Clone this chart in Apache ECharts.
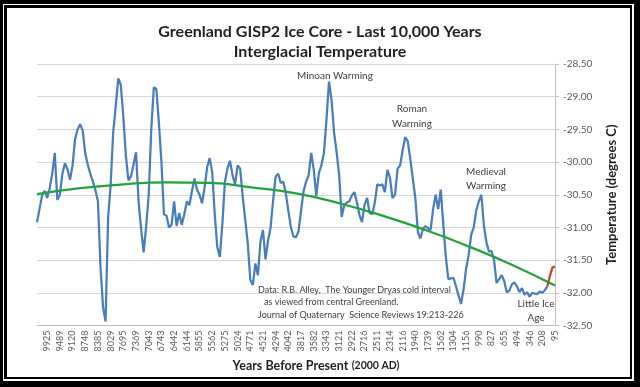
<!DOCTYPE html>
<html>
<head>
<meta charset="utf-8">
<script src="https://cdn.jsdelivr.net/npm/echarts@6/dist/echarts.min.js"></script>
<style>
  html, body { margin: 0; padding: 0; background: #fff; }
  #wrap { position: relative; width: 640px; height: 387px; background: #000; overflow: hidden; }
  .f { position: absolute; }
  #chart { position: absolute; left: 0; top: 0; width: 640px; height: 387px; }
</style>
</head>
<body>
<div id="wrap">
  <div class="f" style="left:3px;top:4px;right:6px;bottom:6px;background:#fff;"></div>
  <div class="f" style="left:4px;top:5px;right:8px;bottom:8px;background:#000;"></div>
  <div class="f" style="left:7px;top:8px;right:10px;bottom:10px;background:#fff;"></div>
  <div id="chart"></div>
</div>
<script>
// Tick labels (years before present), one every 5 samples starting at sample 4
const tickLabels = ['9925','9489','9120','8748','8385','8029','7695','7369','7043','6743',
  '6442','6144','5855','5562','5275','5024','4771','4521','4294','4042',
  '3817','3582','3343','3121','2922','2716','2511','2314','2116','1940',
  '1739','1562','1304','1156','990','827','655','494','346','208','95'];
const firstTickIndex = 4;
const tickStep = 5;

// GISP2 temperature samples (degrees C)
const temps = [
  -30.92, -30.72, -30.51, -30.44, -30.55, -30.40, -30.18, -29.86, -30.58, -30.50,
  -30.18, -30.02, -30.11, -30.27, -30.05, -29.65, -29.50, -29.42, -29.52, -29.87,
  -30.04, -30.18, -30.30, -30.43, -30.60, -31.60, -32.22, -32.44, -30.85, -30.35,
  -29.55, -29.15, -28.72, -28.82, -29.31, -29.90, -30.28, -30.22, -30.04, -29.85,
  -30.60, -31.02, -31.38, -30.98, -30.50, -29.50, -28.86, -28.88, -29.40, -30.00,
  -30.80, -30.82, -31.00, -30.96, -30.60, -30.98, -30.78, -30.96, -30.80, -30.60,
  -30.66, -30.45, -30.25, -30.42, -30.50, -30.63, -30.39, -30.08, -29.94, -30.15,
  -30.80, -31.30, -31.45, -30.95, -30.30, -30.10, -29.98, -30.20, -30.34, -30.05,
  -30.10, -30.52, -30.88, -31.24, -31.80, -31.88, -31.55, -31.73, -31.22, -31.04,
  -31.49, -31.20, -31.00, -30.58, -30.22, -30.18, -30.32, -30.30, -30.48, -30.75,
  -31.00, -31.14, -31.15, -31.06, -30.74, -30.44, -30.30, -30.20, -29.86, -30.12,
  -30.52, -30.17, -30.05, -29.86, -29.35, -28.77, -29.05, -29.55, -29.85, -30.20,
  -30.84, -30.66, -30.62, -30.60, -30.51, -30.46, -30.62, -30.81, -30.92, -30.65,
  -30.55, -30.78, -30.80, -30.63, -30.34, -30.36, -30.34, -30.46, -30.12, -30.24,
  -30.55, -30.50, -30.10, -30.05, -29.82, -29.62, -29.68, -29.95, -30.25, -30.55,
  -31.07, -31.17, -31.02, -30.98, -31.01, -31.04, -30.72, -30.50, -30.72, -30.42,
  -30.95, -31.45, -31.79, -31.78, -31.77, -31.90, -32.04, -32.17, -31.95, -31.63,
  -31.42, -31.11, -31.00, -30.74, -30.60, -30.50, -30.97, -31.23, -31.37, -31.36,
  -31.50, -31.85, -31.79, -31.73, -31.82, -31.99, -31.97, -31.87, -31.84, -31.90,
  -31.99, -31.93, -32.03, -31.99, -32.06, -32.00, -32.01, -32.02, -31.98, -32.00,
  -31.96, -31.90, -31.74, -31.61, -31.60
];
// Samples from this index onward are drawn in red (recent warming)
const recentStart = 201;

// Polynomial trend line, one value every 17 samples
const trendStep = 17;
const trendValues = [-30.49, -30.40, -30.34, -30.31, -30.32, -30.39, -30.48,
  -30.63, -30.82, -31.04, -31.29, -31.57, -31.89];

const yTicks = { min: -32.5, max: -28.5, interval: 0.5 };

// ---- build series data ----
const categories = temps.map((_, i) => String(i));
const labelFor = {};
tickLabels.forEach((t, k) => { labelFor[firstTickIndex + k * tickStep] = t; });
const blueData = temps.map((v, i) => (i <= recentStart ? v : null));
const redData = temps.map((v, i) => (i >= recentStart ? v : null));
const trendData = temps.map(() => null);
trendValues.forEach((v, k) => { trendData[k * trendStep] = v; });

const FONT = 'Lato, "Open Sans", sans-serif';
const chart = echarts.init(document.getElementById('chart'), null, { renderer: 'canvas' });

function ctext(text, cx, cy) {
  return {
    type: 'text', x: cx, y: cy, z: 100,
    style: { text: text, fill: '#404040', font: '10px ' + FONT, align: 'center', verticalAlign: 'middle' }
  };
}
function ltext(text, lx, cy) {
  return {
    type: 'text', x: lx, y: cy, z: 100,
    style: { text: text, fill: '#404040', font: '9px ' + FONT, align: 'left', verticalAlign: 'middle' }
  };
}

chart.setOption({
  animation: false,
  backgroundColor: 'transparent',
  title: {
    text: 'Greenland GISP2 Ice Core - Last 10,000 Years\nInterglacial Temperature',
    left: 'center', top: 17,
    textStyle: { fontFamily: FONT, fontSize: 16, fontWeight: 'bold', color: '#1f1f1f', lineHeight: 20 }
  },
  grid: { left: 37, right: 85, top: 64, bottom: 61.5, containLabel: false },
  xAxis: {
    type: 'category',
    data: categories,
    boundaryGap: false,
    axisLine: { show: true, lineStyle: { color: '#bfbfbf', width: 1 } },
    axisTick: { show: false },
    axisLabel: {
      interval: (idx) => labelFor[idx] !== undefined,
      formatter: (val, idx) => labelFor[idx] || '',
      rotate: 90,
      margin: 5,
      fontFamily: FONT, fontSize: 9, color: '#595959'
    },
    splitLine: { show: false }
  },
  yAxis: {
    type: 'value',
    position: 'right',
    min: yTicks.min, max: yTicks.max, interval: yTicks.interval,
    name: 'Temperature (degrees C)',
    nameLocation: 'middle',
    nameRotate: 90,
    nameGap: 50,
    nameTextStyle: { fontFamily: FONT, fontSize: 13, fontWeight: 'bold', color: '#1f1f1f' },
    axisLine: { show: true, lineStyle: { color: '#bfbfbf', width: 1 } },
    axisTick: { show: true, inside: false, length: 4, lineStyle: { color: '#bfbfbf' } },
    axisLabel: {
      formatter: (v) => v.toFixed(2),
      margin: 8,
      fontFamily: FONT, fontSize: 10, color: '#595959'
    },
    splitLine: { show: true, lineStyle: { color: '#d9d9d9', width: 1 } }
  },
  series: [
    {
      name: 'GISP2', type: 'line', data: blueData, showSymbol: false, symbol: 'none',
      lineStyle: { color: '#4a7ebb', width: 2.25 }, z: 3
    },
    {
      name: 'Recent', type: 'line', data: redData, showSymbol: false, symbol: 'none',
      lineStyle: { color: '#d23a32', width: 2.25 }, z: 4
    },
    {
      name: 'Trend', type: 'line', data: trendData, connectNulls: true, smooth: 0.5,
      showSymbol: false, symbol: 'none',
      lineStyle: { color: '#22a33a', width: 2.25 }, z: 5
    }
  ],
  graphic: [
    ctext('Minoan Warming', 335, 76),
    ctext('Roman', 412, 109),
    ctext('Warming', 412, 124),
    ctext('Medieval', 486, 172),
    ctext('Warming', 486, 186),
    ctext('Little Ice', 536, 304),
    ctext('Age', 536, 318),
    ltext('Data: R.B. Alley,  The Younger Dryas cold interval', 258, 290),
    ltext('as viewed from central Greenland.', 264, 302),
    ltext('Journal of Quaternary  Science Reviews 19:213-226', 258, 315),
    {
      type: 'text', x: 316, y: 366, z: 100,
      style: {
        text: '{a|Years Before Present} {b|(2000 AD)}',
        align: 'center', verticalAlign: 'middle',
        rich: {
          a: { fontFamily: FONT, fontSize: 12.5, fontWeight: 'bold', fill: '#1f1f1f' },
          b: { fontFamily: FONT, fontSize: 10.5, fontWeight: 'bold', fill: '#1f1f1f' }
        }
      }
    }
  ]
});
</script>
</body>
</html>
